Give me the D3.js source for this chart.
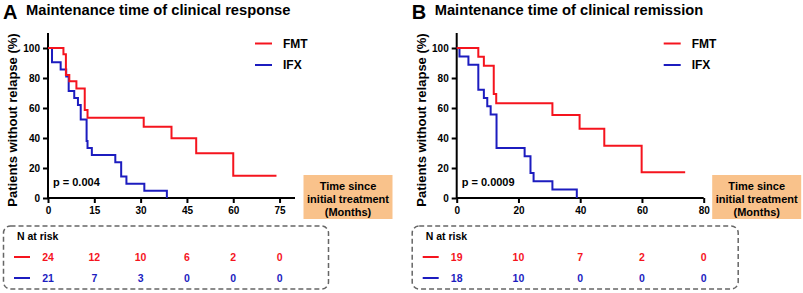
<!DOCTYPE html>
<html>
<head>
<meta charset="utf-8">
<script src="https://cdn.jsdelivr.net/npm/d3@7"></script>
<style>
  body { margin: 0; background: #fff; }
  svg text { font-family: "Liberation Sans", Arial, sans-serif; font-weight: bold; }
</style>
</head>
<body>
<svg id="chart" width="803" height="293"></svg>
<script>
// Panel A - clinical response (step times in months, survival in %)
let fmtTimesA = [5.0, 5.8, 6.9, 9.2, 11.9, 12.8, 31, 40, 48, 60];
let fmtSurvA = [100, 95.8, 82, 77.8, 73, 58.6, 53.5, 47.5, 39.8, 29.8, 14.9];
let fmtEndA = 74;
let ifxTimesA = [1.3, 4.1, 5.9, 6.7, 8.5, 9.7, 10.6, 12.5, 12.8, 14.2, 21.8, 23.7, 25.4, 31.2, 38.5];
let ifxSurvA = [100, 90.5, 85.7, 81, 71.4, 66.7, 62, 52.4, 38, 33.3, 28.6, 23.8, 14.3, 9.5, 4.8, 0];
let ifxEndA = 38.5;
let xTicksA = [0, 15, 30, 45, 60, 75];
let riskFmtA = [24, 12, 10, 6, 2, 0];
let riskIfxA = [21, 7, 3, 0, 0, 0];

// Panel B - clinical remission
let fmtTimesB = [7.0, 8.8, 12.0, 12.8, 31, 39.8, 47.8, 59.9];
let fmtSurvB = [100, 94.2, 88.2, 69.3, 63.1, 55.3, 46.2, 34.9, 17.1];
let fmtEndB = 74;
let ifxTimesB = [0.9, 3.8, 7.0, 8.8, 9.9, 11.0, 12.9, 22, 23.9, 24.9, 31, 38.9];
let ifxSurvB = [100, 94.4, 88.9, 72.2, 66.7, 61.1, 55.6, 33.3, 27.8, 16.7, 11.1, 5.6, 0];
let ifxEndB = 38.9;
let xTicksB = [0, 20, 40, 60, 80];
let riskFmtB = [19, 10, 7, 2, 0];
let riskIfxB = [18, 10, 0, 0, 0];

let yTicks = [0, 20, 40, 60, 80, 100];
let seriesNames = ["FMT", "IFX"];
let red = "#f5141e";
let blue = "#1c1cbf";

let svg = d3.select("#chart");

function stepPoints(times, surv, end) {
    let pts = [[0, surv[0]]];
    for (let i = 0; i < times.length; i++) {
        pts.push([times[i], surv[i + 1]]);
    }
    if (end > times[times.length - 1]) pts.push([end, surv[surv.length - 1]]);
    return pts;
}

function drawPanel(p) {
    let g = svg.append("g").attr("transform", "translate(" + p.dx + ",0)");

    let x = d3.scaleLinear().domain([0, 80]).range([48, 295]);
    let y = d3.scaleLinear().domain([0, 110]).range([198, 33]);

    // Letter and title
    g.append("text").attr("x", 3).attr("y", 18.5).style("font-size", "20px").text(p.letter);
    g.append("text").attr("x", 26).attr("y", 14.5).style("font-size", "14.7px").text(p.title);

    // Y label
    g.append("text")
        .attr("transform", "translate(17,120) rotate(-90)")
        .attr("text-anchor", "middle")
        .style("font-size", "13px")
        .text("Patients without relapse (%)");

    // Axes
    let yAxis = g.append("g").attr("transform", "translate(48,0)")
        .call(d3.axisLeft(y).tickValues(yTicks).tickSize(5).tickPadding(3));
    let xAxis = g.append("g").attr("transform", "translate(0,198)")
        .call(d3.axisBottom(x).tickValues(p.xTicks).tickSize(5).tickPadding(4));
    [yAxis, xAxis].forEach(a => {
        a.select(".domain").attr("stroke-width", 2).attr("stroke", "#000");
        a.selectAll(".tick line").attr("stroke-width", 2).attr("stroke", "#000");
        a.selectAll(".tick text").style("font-size", "10px").attr("fill", "#000")
            .style("font-family", "'Liberation Sans', Arial, sans-serif").style("font-weight", "bold");
    });
    yAxis.select(".domain").attr("d", "M0," + y(110) + "V" + y(0));
    xAxis.select(".domain").attr("d", "M" + x(0) + ",0H" + x(80));

    // Curves
    let line = d3.line().x(d => x(d[0])).y(d => y(d[1])).curve(d3.curveStepAfter);
    g.append("path").datum(stepPoints(p.ifxTimes, p.ifxSurv, p.ifxEnd))
        .attr("d", line).attr("fill", "none").attr("stroke", blue).attr("stroke-width", 2);
    g.append("path").datum(stepPoints(p.fmtTimes, p.fmtSurv, p.fmtEnd))
        .attr("d", line).attr("fill", "none").attr("stroke", red).attr("stroke-width", 2);

    // p value
    g.append("text").attr("x", 53).attr("y", 185.5).style("font-size", "11px").text(p.pval);

    // Legend
    [red, blue].forEach((c, i) => {
        let ly = 43.5 + i * 21.5;
        g.append("line").attr("x1", 255).attr("x2", 272).attr("y1", ly).attr("y2", ly)
            .attr("stroke", c).attr("stroke-width", 2);
        g.append("text").attr("x", 283).attr("y", ly + 4.3).style("font-size", "12px").text(seriesNames[i]);
    });

    // X label box
    g.append("rect").attr("x", 303.5).attr("y", 175).attr("width", 89).attr("height", 44)
        .attr("fill", "#f9c28b");
    ["Time since", "initial treatment", "(Months)"].forEach((t, i) => {
        g.append("text").attr("x", 348).attr("y", 189.5 + i * 13)
            .attr("text-anchor", "middle").style("font-size", "11px").text(t);
    });

    // Risk table
    g.append("rect").attr("x", 3.5).attr("y", 226).attr("width", p.boxW).attr("height", 63)
        .attr("rx", 7).attr("fill", "none").attr("stroke", "#666")
        .attr("stroke-width", 1.5).attr("stroke-dasharray", "5,3");
    g.append("text").attr("x", 17).attr("y", 240).style("font-size", "10.5px").text("N at risk");
    [[p.riskFmt, red, 257], [p.riskIfx, blue, 278]].forEach(r => {
        g.append("line").attr("x1", 14).attr("x2", 30).attr("y1", r[2]).attr("y2", r[2])
            .attr("stroke", r[1]).attr("stroke-width", 2);
        g.selectAll(null).data(r[0]).enter().append("text")
            .attr("x", (d, i) => x(p.xTicks[i]))
            .attr("y", r[2] + 4)
            .attr("text-anchor", "middle")
            .attr("fill", r[1])
            .style("font-size", "10.5px")
            .text(d => d);
    });
}

drawPanel({
    dx: 0, letter: "A", title: "Maintenance time of clinical response", pval: "p = 0.004",
    fmtTimes: fmtTimesA, fmtSurv: fmtSurvA, fmtEnd: fmtEndA,
    ifxTimes: ifxTimesA, ifxSurv: ifxSurvA, ifxEnd: ifxEndA,
    xTicks: xTicksA, riskFmt: riskFmtA, riskIfx: riskIfxA, boxW: 325
});
drawPanel({
    dx: 408.7, letter: "B", title: "Maintenance time of clinical remission", pval: "p = 0.0009",
    fmtTimes: fmtTimesB, fmtSurv: fmtSurvB, fmtEnd: fmtEndB,
    ifxTimes: ifxTimesB, ifxSurv: ifxSurvB, ifxEnd: ifxEndB,
    xTicks: xTicksB, riskFmt: riskFmtB, riskIfx: riskIfxB, boxW: 326
});
</script>
</body>
</html>
